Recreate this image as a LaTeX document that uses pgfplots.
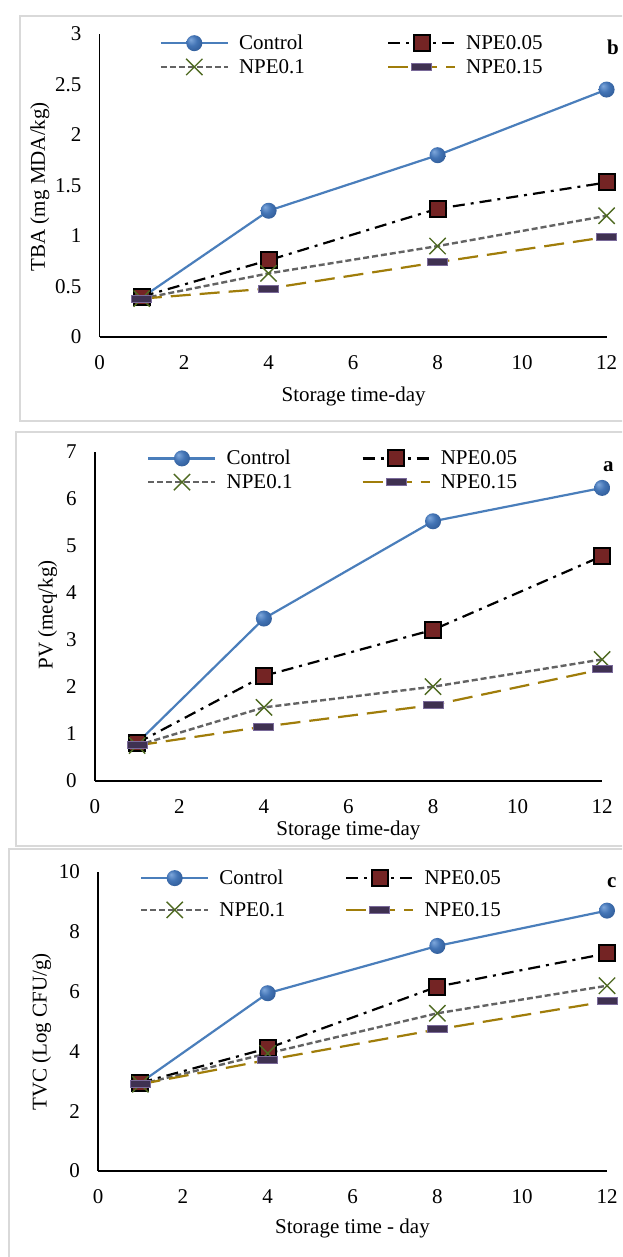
\documentclass[border=0pt]{standalone}
\usepackage{fontspec}
\setmainfont{Liberation Serif}
\usepackage{pgfplots}
\pgfplotsset{compat=1.18}

\definecolor{ctrlblue}{HTML}{4A7EBB}
\definecolor{ballhi}{HTML}{7FA8DC}
\definecolor{ballblue}{HTML}{4374B5}
\definecolor{balldark}{HTML}{27508A}
\definecolor{sqred}{HTML}{742424}
\definecolor{xgreen}{HTML}{4F6A22}
\definecolor{dgray}{HTML}{636363}
\definecolor{golden}{HTML}{A07D0A}
\definecolor{purp}{HTML}{3F3151}
\definecolor{lav}{HTML}{7A6A9A}
\definecolor{framegray}{HTML}{D9D9D9}

\pgfdeclareradialshading{excelball}{\pgfpoint{-12bp}{12bp}}{color(0bp)=(ballhi); color(16bp)=(ballblue); color(40bp)=(balldark); color(50bp)=(balldark)}
\pgfdeclareplotmark{eball}{\pgfpathcircle{\pgfpointorigin}{\pgfplotmarksize}\pgfshadepath{excelball}{0}\pgfusepath{}}
\pgfdeclareplotmark{hbar}{\pgfpathrectangle{\pgfpoint{-10pt}{-3.5pt}}{\pgfpoint{20pt}{7pt}}\pgfusepathqfillstroke}

\newcommand\fs{\fontsize{21}{25}\selectfont}

\pgfplotsset{
 panel/.style={
  scale only axis, anchor=south west,
  axis x line=bottom, axis y line=left,
  axis line style={-, line width=1.6pt, black},
  xmin=0, xmax=12, ymin=0,
  xtick={0,2,4,6,8,10,12},
  major tick length=0pt,
  tick label style={font=\fs},
  /pgf/number format/assume math mode=true,
  scaled ticks=false,
  xticklabel style={anchor=center, yshift=-25.5pt},
  yticklabel style={anchor=east, inner sep=0pt, xshift=-18pt},
  label style={font=\fs},
  clip=false,
  legend columns=2,
  legend cell align=left,
  legend image code/.code={\draw[mark repeat=2,mark phase=2,##1] plot coordinates {(0pt,0pt) (33.5pt,0pt) (67pt,0pt)};},
  legend style={draw=none, fill=none, font=\fs, anchor=center,
    /tikz/column 1/.style={column sep=8pt},
    /tikz/column 3/.style={column sep=8pt}},
 },
 ctrl/.style={ctrlblue, line width=2.2pt, mark=eball, mark size=8pt, mark options={solid}},
 npea/.style={black, line width=2.2pt, dash pattern=on 12pt off 6pt on 3pt off 6pt, mark=square*, mark size=8pt, mark options={solid, fill=sqred, draw=black, line width=2pt}},
 npeb/.style={dgray, line width=2.4pt, dash pattern=on 6pt off 3pt, mark=x, mark size=11.5pt, mark options={solid, draw=xgreen, line width=1.4pt}},
 npec/.style={golden, line width=2.2pt, dash pattern=on 20pt off 9pt, mark=hbar, mark options={solid, fill=purp, draw=lav, line width=1pt}},
}

\begin{document}
\begin{tikzpicture}
\useasboundingbox (0pt,0pt) rectangle (622pt,-1257pt);
\clip (0pt,0pt) rectangle (622pt,-1257pt);
\fill[white] (0pt,0pt) rectangle (622pt,-1257pt);
\draw[framegray, line width=2.5pt] (20pt,-16pt) rectangle (640pt,-421pt);
\draw[framegray, line width=2.5pt] (16pt,-432pt) rectangle (640pt,-846pt);
\draw[framegray, line width=2.5pt] (9pt,-849pt) rectangle (640pt,-1275pt);

% Panel b: TBA
\begin{axis}[panel, at={(99.6pt,-337pt)}, width=507pt, height=303pt,
  ymax=3, ytick={0,0.5,1,1.5,2,2.5,3},
  xlabel={Storage time-day}, ylabel={TBA (mg MDA/kg)},
  xlabel style={at={(axis description cs:0.501,-0.195)}, anchor=center},
  ylabel style={at={(axis description cs:-0.118,0.496)}, anchor=center},
  legend style={at={(axis description cs:0.498,0.931)}, row sep=4pt,
    /tikz/column 2/.style={column sep=80pt}}]
\addplot[ctrl] coordinates {(1,0.39) (4,1.25) (8,1.80) (12,2.45)};
\addplot[npea] coordinates {(1,0.40) (4,0.76) (8,1.27) (12,1.53)};
\addplot[npeb] coordinates {(1,0.38) (4,0.63) (8,0.90) (12,1.20)};
\addplot[npec] coordinates {(1,0.38) (4,0.48) (8,0.74) (12,0.99)};
\legend{Control,NPE0.05,NPE0.1,NPE0.15}
\end{axis}

% Panel a: PV
\begin{axis}[panel, at={(94.8pt,-780.7pt)}, width=507.3pt, height=329pt,
  ymax=7, ytick={0,1,2,3,4,5,6,7},
  xlabel={Storage time-day}, ylabel={PV (meq/kg)},
  xlabel style={at={(axis description cs:0.5,-0.152)}, anchor=center},
  ylabel style={at={(axis description cs:-0.093,0.504)}, anchor=center},
  legend style={at={(axis description cs:0.470,0.944)}, row sep=4pt,
    /tikz/column 2/.style={column sep=67pt}}]
\addplot[ctrl] coordinates {(1,0.80) (4,3.45) (8,5.52) (12,6.23)};
\addplot[npea] coordinates {(1,0.80) (4,2.23) (8,3.21) (12,4.78)};
\addplot[npeb] coordinates {(1,0.75) (4,1.56) (8,2.00) (12,2.58)};
\addplot[npec] coordinates {(1,0.75) (4,1.15) (8,1.61) (12,2.37)};
\legend{Control,NPE0.05,NPE0.1,NPE0.15}
\end{axis}

% Panel c: TVC
\begin{axis}[panel, at={(98pt,-1171pt)}, width=509pt, height=299.3pt,
  ymax=10, ytick={0,2,4,6,8,10},
  xlabel={Storage time - day}, ylabel={TVC (Log CFU/g)},
  xlabel style={at={(axis description cs:0.5,-0.191)}, anchor=center},
  ylabel style={at={(axis description cs:-0.111,0.465)}, anchor=center},
  legend style={at={(axis description cs:0.439,0.926)}, row sep=12pt,
    /tikz/column 2/.style={column sep=58pt}}]
\addplot[ctrl] coordinates {(1,2.95) (4,5.94) (8,7.52) (12,8.70)};
\addplot[npea] coordinates {(1,2.95) (4,4.10) (8,6.16) (12,7.27)};
\addplot[npeb] coordinates {(1,2.90) (4,3.93) (8,5.27) (12,6.19)};
\addplot[npec] coordinates {(1,2.90) (4,3.71) (8,4.73) (12,5.67)};
\legend{Control,NPE0.05,NPE0.1,NPE0.15}
\end{axis}

\node[font=\bfseries\fs, anchor=base west, inner sep=0pt] at (607pt,-55pt) {b};
\node[font=\bfseries\fs, anchor=base west, inner sep=0pt] at (603pt,-471pt) {a};
\node[font=\bfseries\fs, anchor=base west, inner sep=0pt] at (607pt,-887pt) {c};
\end{tikzpicture}
\end{document}
